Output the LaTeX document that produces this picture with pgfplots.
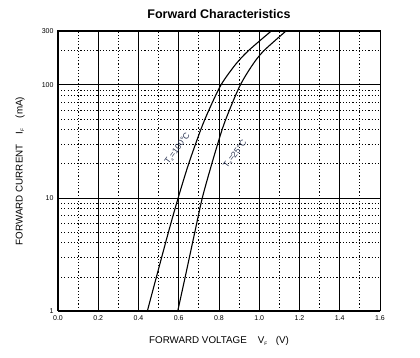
\documentclass[border=0pt]{standalone}
\usepackage{fontspec}
\setmainfont{Liberation Sans}
\usepackage{pgfplots}
\pgfplotsset{compat=1.18}
\definecolor{lbl}{RGB}{45,55,85}
\begin{document}
\begin{tikzpicture}
\path[use as bounding box] (-58pt,-47pt) rectangle (362pt,311pt);
\begin{axis}[
  scale only axis, width=322pt, height=280pt,
  at={(0pt,0pt)}, anchor=south west,
  ymode=log, xmin=0, xmax=1.6, ymin=1, ymax=300,
  xtick={0,0.2,0.4,0.6,0.8,1.0,1.2,1.4,1.6},
  xticklabels={0.0,0.2,0.4,0.6,0.8,1.0,1.2,1.4,1.6},
  minor xtick={0.1,0.3,0.5,0.7,0.9,1.1,1.3,1.5},
  ytick={1,10,100,300}, yticklabels={1,10,100,300},
  minor ytick={2,3,4,5,6,7,8,9,20,30,40,50,60,70,80,90,200},
  grid=both,
  major grid style={black, line width=0.9pt},
  minor grid style={black, line width=0.9pt, dash pattern=on 1.1pt off 2.1pt},
  major tick length=0pt, minor tick length=0pt,
  axis line style={black, line width=1pt},
  tick label style={font=\fontsize{7}{8}\selectfont, black},
  /pgf/number format/assume math mode=true,
  xticklabel style={yshift=-1pt},
  yticklabel style={xshift=-1pt},
  title={\fontsize{12.5}{14}\selectfont\bfseries Forward Characteristics},
  title style={at={(axis description cs:0.5,1.061)}, anchor=center, yshift=-6pt},
  xlabel={\fontsize{9.8}{11}\selectfont FORWARD VOLTAGE\hspace{11pt}V\textsubscript{\scalebox{0.7}{F}}\hspace{8pt}(V)},
  xlabel style={at={(axis description cs:0.5,-0.108)}, anchor=center},
  ylabel={\fontsize{9.8}{11}\selectfont FORWARD CURRENT\hspace{10pt}I\textsubscript{\scalebox{0.7}{F}}\hspace{10pt}(mA)},
  ylabel style={at={(axis description cs:-0.118,0.5)}, anchor=center},
]
\addplot[black, line width=1.1pt, smooth] coordinates {
  (0.444,1) (0.489,2) (0.549,5) (0.597,10) (0.649,20) (0.709,40) (0.750,60)
  (0.810,100) (0.880,150) (0.945,200) (1.060,300)
};
\addplot[black, line width=1.1pt, smooth] coordinates {
  (0.595,1) (0.632,2) (0.680,5) (0.717,10) (0.764,20) (0.815,40) (0.852,60)
  (0.906,100) (0.966,150) (1.022,200) (1.133,300)
};
\node[rotate=54, text=lbl, font=\fontsize{8.5}{10}\selectfont] at (axis cs:0.594,27.3)
  {T\textsubscript{\scalebox{0.7}{a}}=100°C};
\node[rotate=52, text=lbl, font=\fontsize{8.5}{10}\selectfont] at (axis cs:0.880,24.4)
  {T\textsubscript{\scalebox{0.7}{a}}=25°C};
\end{axis}
\end{tikzpicture}
\end{document}
